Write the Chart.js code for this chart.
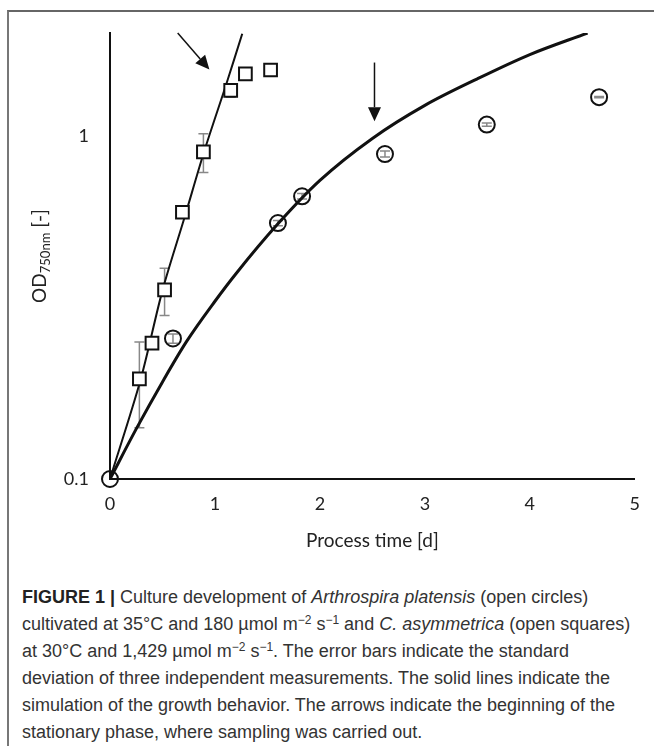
<!DOCTYPE html>
<html>
<head>
<meta charset="utf-8">
<script src="https://cdn.jsdelivr.net/npm/chart.js@4.4.0/dist/chart.umd.min.js"></script>
<style>
  html, body { margin: 0; padding: 0; background: #fff; }
  body { width: 654px; height: 746px; position: relative; overflow: hidden; }
  #frame { position: absolute; left: 7px; top: 10px; width: 660px; height: 760px;
           border-top: 2px solid #666; border-left: 2px solid #777; }
  #wrap { position: absolute; left: 0; top: 0; width: 654px; height: 560px; }
  #caption { position: absolute; left: 22px; top: 584px; font-family: "Liberation Sans", Arial, sans-serif;
             font-size: 18px; line-height: 27px; color: #333; white-space: nowrap; }
  #caption b { color: #222; }
  #caption sup { font-size: 12px; line-height: 0; vertical-align: 6px; }
</style>
</head>
<body>
<div id="frame"></div>
<div id="wrap"><canvas id="odChart" width="654" height="560"></canvas></div>
<div id="caption">
<b>FIGURE 1 |</b> Culture development of <i>Arthrospira platensis</i> (open circles)<br>
cultivated at 35°C and 180 µmol m<sup>−2</sup> s<sup>−1</sup> and <i>C. asymmetrica</i> (open squares)<br>
at 30°C and 1,429 µmol m<sup>−2</sup> s<sup>−1</sup>. The error bars indicate the standard<br>
deviation of three independent measurements. The solid lines indicate the<br>
simulation of the growth behavior. The arrows indicate the beginning of the<br>
stationary phase, where sampling was carried out.
</div>
<script>
// measured points, C. asymmetrica (open squares)
const squareDays = [0.28, 0.40, 0.52, 0.69, 0.89, 1.15, 1.29, 1.53];
const squareOD   = [0.196, 0.249, 0.356, 0.60, 0.90, 1.36, 1.52, 1.56];
const squareErr  = [0.055, 0.008, 0.056, 0.01, 0.117, 0.06, 0.01, 0.065];

// measured points, A. platensis (open circles)
const circleDays = [0, 0.60, 1.60, 1.83, 2.62, 3.59, 4.66];
const circleOD   = [0.1, 0.257, 0.558, 0.668, 0.887, 1.081, 1.30];
const circleErr  = [0, 0.008, 0.01, 0.012, 0.018, 0.012, 0.006];

// simulated growth curves
const squareFitDays = [0, 0.29, 0.50, 0.71, 0.90, 1.11, 1.26];
const squareFitOD   = [0.1, 0.194, 0.355, 0.579, 0.908, 1.425, 1.99];
const circleFitDays = [0, 0.25, 0.5, 0.73, 1.0, 1.2, 1.6, 2.0, 2.5, 3.0, 3.5, 4.0, 4.55];
const circleFitOD   = [0.1, 0.14, 0.192, 0.252, 0.33, 0.397, 0.555, 0.743, 0.985, 1.23, 1.47, 1.73, 2.0];

// arrows marking start of stationary phase
const arrowFromX = [0.645, 2.52];
const arrowFromY = [2.0, 1.64];
const arrowToX   = [0.947, 2.52];
const arrowToY   = [1.565, 1.106];

const xTicks = [0, 1, 2, 3, 4, 5];
const yTicks = [0.1, 1];

const fontName = 'Lato, "Open Sans", sans-serif';

function pts(xs, ys) {
  return xs.map((x, i) => ({ x: x, y: ys[i] }));
}

const annotate = {
  id: 'annotate',
  beforeDatasetsDraw(chart) {
    const c = chart.ctx, xs = chart.scales.x, ys = chart.scales.y;
    c.save();
    c.strokeStyle = '#888';
    c.lineWidth = 1.5;
    const bars = [[squareDays, squareOD, squareErr], [circleDays, circleOD, circleErr]];
    bars.forEach(function (b) {
      b[0].forEach(function (d, i) {
        if (!b[2][i]) return;
        const px = xs.getPixelForValue(d);
        const hi = ys.getPixelForValue(b[1][i] + b[2][i]);
        const lo = ys.getPixelForValue(b[1][i] - b[2][i]);
        c.beginPath();
        c.moveTo(px, hi); c.lineTo(px, lo);
        c.moveTo(px - 5, hi); c.lineTo(px + 5, hi);
        c.moveTo(px - 5, lo); c.lineTo(px + 5, lo);
        c.stroke();
      });
    });
    c.restore();
  },
  afterDraw(chart) {
    const c = chart.ctx, xs = chart.scales.x, ys = chart.scales.y, a = chart.chartArea;
    c.save();
    // arrows
    c.strokeStyle = '#111';
    c.fillStyle = '#111';
    c.lineWidth = 1.5;
    arrowFromX.forEach(function (fx, i) {
      const x0 = xs.getPixelForValue(fx), y0 = ys.getPixelForValue(arrowFromY[i]);
      const x1 = xs.getPixelForValue(arrowToX[i]), y1 = ys.getPixelForValue(arrowToY[i]);
      const ang = Math.atan2(y1 - y0, x1 - x0);
      const len = 14, half = 6.5;
      const bx = x1 - len * Math.cos(ang), by = y1 - len * Math.sin(ang);
      c.beginPath();
      c.moveTo(x0, y0); c.lineTo(bx, by);
      c.stroke();
      c.beginPath();
      c.moveTo(x1, y1);
      c.lineTo(bx + half * Math.sin(ang), by - half * Math.cos(ang));
      c.lineTo(bx - half * Math.sin(ang), by + half * Math.cos(ang));
      c.closePath();
      c.fill();
    });
    // axis titles
    c.fillStyle = '#222';
    c.textBaseline = 'alphabetic';
    c.font = '19px ' + fontName;
    c.textAlign = 'center';
    c.fillText('Process time [d]', (a.left + a.right) / 2, 547);

    c.translate(46, (a.top + a.bottom) / 2);
    c.rotate(-Math.PI / 2);
    c.textAlign = 'left';
    const big = '19px ' + fontName, small = '13px ' + fontName;
    c.font = big; const w1 = c.measureText('OD').width;
    c.font = small; const w2 = c.measureText('750nm').width;
    c.font = big; const w3 = c.measureText(' [-]').width;
    let x = -(w1 + w2 + w3) / 2;
    c.font = big; c.fillText('OD', x, 0); x += w1;
    c.font = small; c.fillText('750nm', x, 4); x += w2;
    c.font = big; c.fillText(' [-]', x, 0);
    c.restore();
  }
};

const ctx = document.getElementById('odChart').getContext('2d');
const odChart = new Chart(ctx, {
  type: 'scatter',
  data: {
    datasets: [
      {
        label: 'A. platensis',
        data: pts(circleDays, circleOD),
        pointStyle: 'circle',
        pointRadius: 8,
        pointBorderWidth: 2,
        pointBorderColor: '#111',
        pointBackgroundColor: 'rgba(0,0,0,0)',
        clip: false,
        order: 0
      },
      {
        label: 'C. asymmetrica',
        data: pts(squareDays, squareOD),
        pointStyle: 'rect',
        pointRadius: 9,
        pointBorderWidth: 2,
        pointBorderColor: '#111',
        pointBackgroundColor: '#fff',
        clip: false,
        order: 0
      },
      {
        label: 'A. platensis model',
        data: pts(circleFitDays, circleFitOD),
        showLine: true,
        borderColor: '#111',
        borderWidth: 3,
        pointRadius: 0,
        cubicInterpolationMode: 'monotone',
        order: 1
      },
      {
        label: 'C. asymmetrica model',
        data: pts(squareFitDays, squareFitOD),
        showLine: true,
        borderColor: '#111',
        borderWidth: 2,
        pointRadius: 0,
        tension: 0.3,
        order: 1
      }
    ]
  },
  options: {
    responsive: false,
    animation: false,
    devicePixelRatio: 1,
    layout: { padding: { top: 33, right: 14, left: 0, bottom: 0 } },
    plugins: { legend: { display: false }, tooltip: { enabled: false } },
    scales: {
      x: {
        type: 'linear',
        min: 0,
        max: 5,
        afterBuildTicks: function (s) { s.ticks = xTicks.map(v => ({ value: v })); },
        afterFit: function (s) { s.height = 81; },
        grid: { display: false, drawTicks: false },
        border: { display: true, color: '#111', width: 2 },
        ticks: { padding: 14, color: '#222', font: { family: fontName, size: 18 } }
      },
      y: {
        type: 'logarithmic',
        min: 0.1,
        max: 2,
        afterBuildTicks: function (s) { s.ticks = yTicks.map(v => ({ value: v })); },
        afterFit: function (s) { s.width = 110; },
        grid: { display: false, drawTicks: false },
        border: { display: true, color: '#111', width: 2 },
        ticks: {
          padding: 21,
          color: '#222',
          font: { family: fontName, size: 18 },
          callback: function (v) { return String(v); }
        }
      }
    }
  },
  plugins: [annotate]
});
</script>
</body>
</html>
